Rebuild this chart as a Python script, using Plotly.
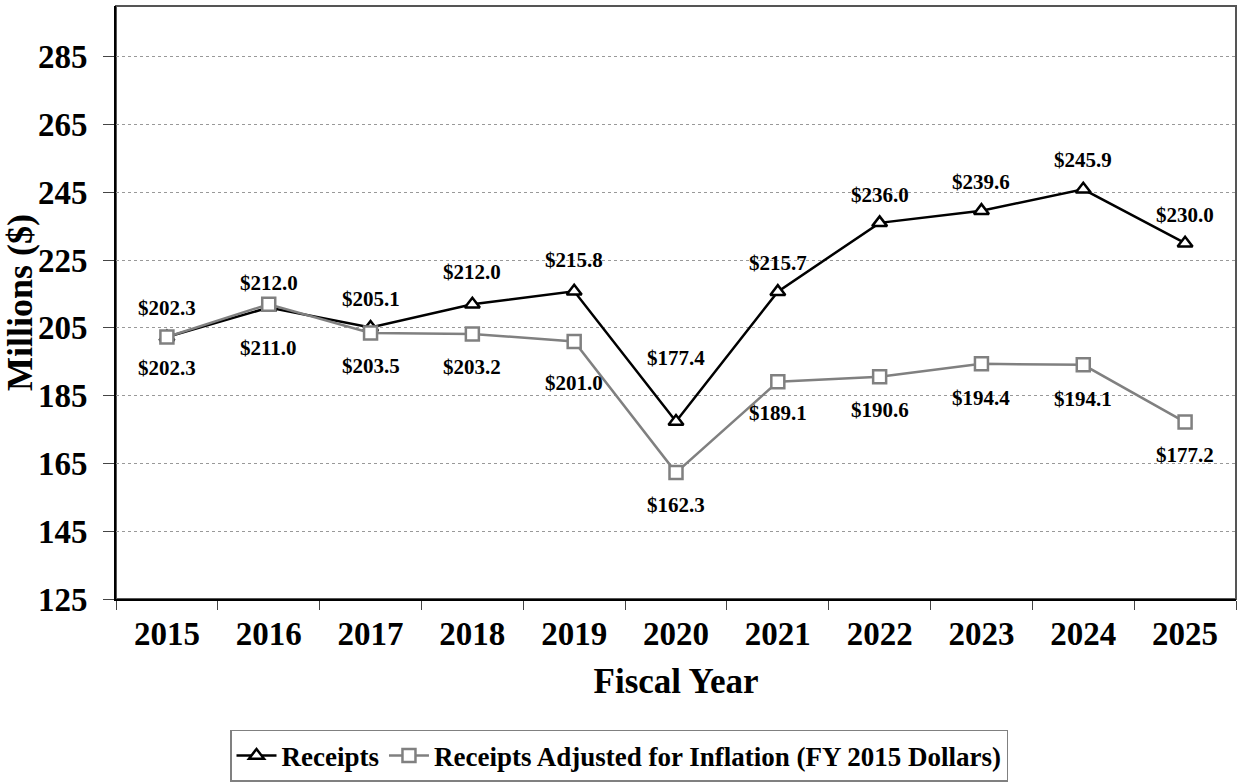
import plotly.graph_objects as go

# data
years = ['2015', '2016', '2017', '2018', '2019', '2020', '2021', '2022', '2023', '2024', '2025']
receipts = [202.3, 211.0, 205.1, 212.0, 215.8, 177.4, 215.7, 236.0, 239.6, 245.9, 230.0]
adjusted = [202.3, 212.0, 203.5, 203.2, 201.0, 162.3, 189.1, 190.6, 194.4, 194.1, 177.2]
y_ticks = [125, 145, 165, 185, 205, 225, 245, 265, 285]

# label offsets in px (up is positive)
rec_shift = [29, -40, 29, 32, 31, 63, 29, 28, 29, 29, 28]
adj_shift = [-31, 21, -33, -33, -42, -32, -31, -33, -34, -34, -33]

FONT = 'Liberation Serif'

fig = go.Figure()
fig.add_trace(go.Scatter(
    x=years, y=receipts, name='Receipts', mode='lines+markers',
    line=dict(color='black', width=2.5),
    marker=dict(symbol='triangle-up', size=13, color='white',
                line=dict(color='black', width=2.5))))
fig.add_trace(go.Scatter(
    x=years, y=adjusted, name='Receipts Adjusted for Inflation (FY 2015 Dollars)',
    mode='lines+markers',
    line=dict(color='#808080', width=2.5),
    marker=dict(symbol='square', size=13, color='white',
                line=dict(color='#808080', width=2.5))))

# data labels (x as category index so '2015' isn't read as a number)
for vals, shifts in [(receipts, rec_shift), (adjusted, adj_shift)]:
    for i, (v, s) in enumerate(zip(vals, shifts)):
        fig.add_annotation(x=i, y=v, text='$%.1f' % v, showarrow=False,
                           yshift=s, font=dict(family=FONT, size=21, color='black', weight='bold'))

# gray frame on top/right of the plot area
fig.add_shape(type='rect', xref='paper', yref='paper', x0=0, x1=1, y0=0, y1=1,
              line=dict(color='#555555', width=2), layer='below')

fig.update_layout(
    width=1238, height=784,
    paper_bgcolor='white', plot_bgcolor='white',
    margin=dict(l=116, r=2, t=6, b=185),
    font=dict(family=FONT, color='black'),
    showlegend=True,
    legend=dict(orientation='h', xref='container', yref='container',
                x=0.5, xanchor='center', y=0.069, yanchor='top',
                bordercolor='#808080', borderwidth=1.5,
                font=dict(family=FONT, size=27, color='black', weight='bold'),
                itemwidth=40, tracegroupgap=0),
    xaxis=dict(type='category', range=[-0.5, 10.5],
               showline=True, linecolor='black', linewidth=2,
               ticks='outside', tickson='boundaries', ticklen=9, tickcolor='#444', tickwidth=1,
               ticklabelstandoff=4,
               showgrid=False, zeroline=False,
               tickfont=dict(family=FONT, size=33, color='black', weight='bold'),
               title=dict(text='Fiscal Year', standoff=18,
                          font=dict(family=FONT, size=35, color='black', weight='bold'))),
    yaxis=dict(range=[125, 300], tickvals=y_ticks,
               showline=True, linecolor='black', linewidth=2,
               ticks='outside', ticklen=11, tickcolor='#444', tickwidth=1,
               ticklabelstandoff=9,
               showgrid=True, gridcolor='#999999', griddash='dot', gridwidth=1,
               zeroline=False,
               tickfont=dict(family=FONT, size=33, color='black', weight='bold'),
               title=dict(text='Millions ($)', standoff=0,
                          font=dict(family=FONT, size=36, color='black', weight='bold'))),
)

fig.write_html('out.html', config={'displayModeBar': False},
               post_script="document.body.style.margin='0';")
